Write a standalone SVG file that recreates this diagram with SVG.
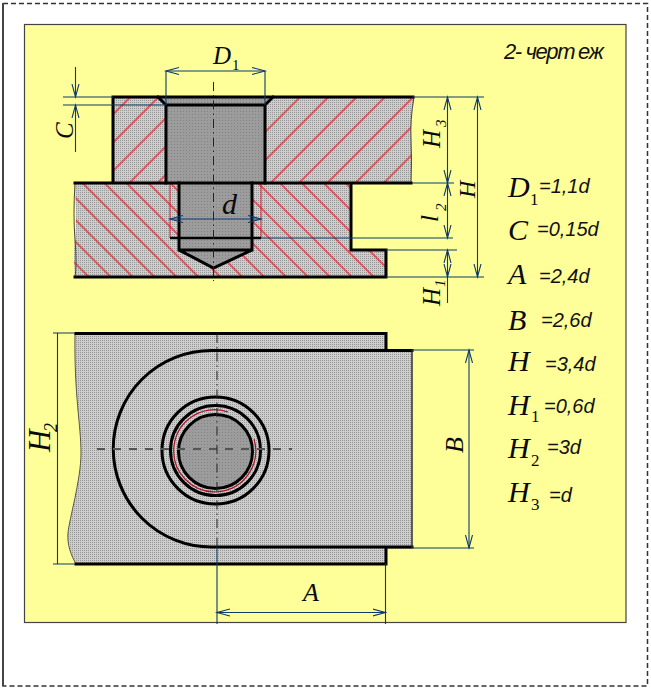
<svg xmlns="http://www.w3.org/2000/svg" width="651" height="691" viewBox="0 0 651 691">
<style>
.k{fill:none;stroke:#000;stroke-width:3;stroke-linecap:square}
.dim{fill:none;stroke:#0b3a6b;stroke-width:1.1}
.arr{marker-start:url(#a);marker-end:url(#a)}
.cl{fill:none;stroke:#222;stroke-width:1;stroke-dasharray:9 4 1.5 4}
.red{fill:none;stroke:#e0162a;stroke-width:1}
.s{font-family:"Liberation Serif",serif;font-style:italic;fill:#0a0a0a}
.v{font-family:"Liberation Sans",sans-serif;font-style:italic;fill:#111;font-size:20px}
</style>
<defs>
<marker id="a" markerUnits="userSpaceOnUse" markerWidth="16" markerHeight="12" refX="13" refY="6" orient="auto-start-reverse"><path d="M0,2.500 L13,6 L0,9.500" fill="none" stroke="#0b3a6b" stroke-width="1.100"/></marker>
<pattern id="lg" width="2" height="2" patternUnits="userSpaceOnUse"><rect width="2" height="2" fill="#cdcdcd"/><rect width="1" height="1" fill="#979797"/></pattern>
<pattern id="dg" width="3" height="3" patternUnits="userSpaceOnUse"><rect width="3" height="3" fill="#9c9c9c"/><rect width="1" height="1" fill="#828282"/></pattern>
<pattern id="h1" width="20" height="20" patternUnits="userSpaceOnUse" patternTransform="translate(129 97) rotate(-45)"><line x1="0" y1="1" x2="20" y2="1" stroke="#ff0a1a" stroke-width="1.200"/></pattern>
<pattern id="h2" width="15.500" height="15.500" patternUnits="userSpaceOnUse" patternTransform="translate(84 183) rotate(45)"><line x1="0" y1="1" x2="15.500" y2="1" stroke="#ff0a1a" stroke-width="1.200"/></pattern>
</defs>
<g id="sheet">
<rect x="3" y="3.500" width="644.500" height="682.500" fill="#fff" stroke="#333" stroke-width="1.500" stroke-dasharray="5 3"/>
<line x1="3" y1="3" x2="3" y2="686" stroke="#444" stroke-width="2"/>
<rect x="24.500" y="24.500" width="601.500" height="598" fill="#ffff99" stroke="#444" stroke-width="1.200"/>
</g>
<g id="section">
<path id="lower-plate" d="M75,183H351V250H386V277H75Q73,255 75,240T75,183Z" fill="url(#lg)"/>
<path d="M75,183H179V250L213.500,268L252,250V183H351V250H386V277H75Q73,255 75,240T75,183Z" fill="url(#h2)"/>
<path id="upper-plate" d="M113,97H414Q410,120 411,140T411,183H113Z" fill="url(#lg)"/>
<path d="M113,97H158L166,105V183H113Z M273,97H414Q410,120 411,140T411,183H265V105Z" fill="url(#h1)"/>
<path id="bolt" d="M158,97H273L265,105V183H252V250L213.500,268L179,250V183H166V105Z" fill="url(#dg)"/>
<path d="M170,183V238M261,183V238" class="red"/>
<path d="M414,97Q410,120 411,140T411,183" fill="none" stroke="#444" stroke-width="1"/>
<path d="M75,183Q73,215 75,240T75,277" fill="none" stroke="#444" stroke-width="1"/>
<path class="k" d="M113,97H413M113,97V183M75,183H411M75,277H386V250H351V183"/>
<path class="k" d="M158,97L166,105V183M273,97L265,105V183M166,105H265"/>
<path class="k" d="M179,183V250L213.500,268L252,250V183M179,250H252"/>
<path d="M170,238H261" stroke="#000" stroke-width="2.500"/>
<line class="cl" x1="213.500" y1="82" x2="213.500" y2="281"/>
</g>
<g id="plan">
<path id="plan-body" d="M75,333H386V350H412V548H386V564H76C71,555 67,545 68,533C69,520 81,480 81,453C81,425 74,395 75,333Z" fill="url(#lg)" stroke="#555" stroke-width="1"/>
<path class="k" d="M76,333.500H386V349M386,549V564H76"/>
<path class="k" d="M412,350.500H211.500A98.250,98.250 0 0 0 211.500,547H412"/>
<path d="M412,350V548" stroke="#333" stroke-width="1.200"/>
<circle id="bolt-top" cx="215.500" cy="451.500" r="37" fill="url(#dg)" stroke="#000" stroke-width="3"/>
<circle cx="215.500" cy="450.500" r="45" fill="none" stroke="#000" stroke-width="3"/>
<circle cx="215.500" cy="450.500" r="53.500" fill="none" stroke="#000" stroke-width="3"/>
<path d="M254,439A41,41 0 1 1 228,412" fill="none" stroke="#b01020" stroke-width="1.200"/>
<line x1="97" y1="449" x2="292" y2="449" stroke="#555" stroke-width="2" stroke-dasharray="8 8"/>
<line class="cl" x1="217" y1="334" x2="217" y2="547"/>
</g>
<g id="dimensions">
<path class="dim" d="M166,71V105M265,71V105"/>
<path class="dim arr" d="M166,71H265"/>
<path class="dim" d="M63,97H113M63,105H166"/>
<path class="dim" d="M75.500,67V97" marker-end="url(#a)"/>
<path class="dim" d="M75.500,152V105" marker-end="url(#a)"/>
<path class="dim arr" d="M170,219H261" stroke-width="1.800"/>
<path class="dim" d="M412,97H484M412,183H454M261,238H453M386,250H457M386,277H484"/>
<path class="dim arr" d="M447.500,97V183"/>
<path class="dim arr" d="M447.500,183V238"/>
<path class="dim" d="M447.500,277V303"/>
<path class="dim arr" d="M447.500,250V277"/>
<path class="dim arr" d="M477.500,97V277"/>
<path class="dim" d="M412,350H474M412,548H474M53,333H75M53,564H75M57.500,333V564M217,547V624M385.500,564V624"/>
<path class="dim arr" d="M469,350V548"/>
<path class="dim arr" d="M217,612.500H385.500"/>
</g>
<g id="labels">
<text class="s" x="213" y="64" font-size="25">D</text><text class="s" x="232" y="70" font-size="15" style="font-style:normal">1</text>
<text class="s" transform="translate(73 139) rotate(-90)" font-size="25">C</text>
<text class="s" x="222" y="214" font-size="30">d</text>
<text class="s" transform="translate(440 148) rotate(-90)" font-size="25">H</text><text class="s" transform="translate(446 127) rotate(-90)" font-size="15">3</text>
<text class="s" transform="translate(475 198) rotate(-90)" font-size="24">H</text>
<text class="s" transform="translate(438 222) rotate(-90)" font-size="25">l</text><text class="s" transform="translate(446 211) rotate(-90)" font-size="15">2</text>
<text class="s" transform="translate(440 306) rotate(-90)" font-size="25">H</text><text class="s" transform="translate(445 287) rotate(-90)" font-size="15">1</text>
<text class="s" transform="translate(463 453) rotate(-90)" font-size="26">B</text>
<text class="s" transform="translate(50 452) rotate(-90)" font-size="31">H</text><text class="s" transform="translate(57 432) rotate(-90)" font-size="18">2</text>
<text class="s" x="303" y="601" font-size="26">A</text>
<text x="504" y="59" font-family="Liberation Sans, sans-serif" font-style="italic" font-size="22" fill="#111" letter-spacing="-1.400">2- черт<tspan dx="4">еж</tspan></text>
<text class="s" x="508" y="197" font-size="30">D</text><text class="s" x="530" y="205" font-size="17" style="font-style:normal">1</text><text class="v" x="539" y="193">=1,1d</text>
<text class="s" x="508" y="240" font-size="30">C</text><text class="v" x="537" y="236">=0,15d</text>
<text class="s" x="508" y="284" font-size="30">A</text><text class="v" x="539" y="283">=2,4d</text>
<text class="s" x="508" y="330" font-size="30">B</text><text class="v" x="541" y="327">=2,6d</text>
<text class="s" x="508" y="371" font-size="30">H</text><text class="v" x="545" y="371">=3,4d</text>
<text class="s" x="508" y="415" font-size="30">H</text><text class="s" x="531" y="422" font-size="17" style="font-style:normal">1</text><text class="v" x="544" y="413">=0,6d</text>
<text class="s" x="508" y="458" font-size="30">H</text><text class="s" x="531" y="466" font-size="17" style="font-style:normal">2</text><text class="v" x="547" y="454">=3d</text>
<text class="s" x="508" y="502" font-size="30">H</text><text class="s" x="531" y="510" font-size="17" style="font-style:normal">3</text><text class="v" x="549" y="502">=d</text>
</g>
</svg>
